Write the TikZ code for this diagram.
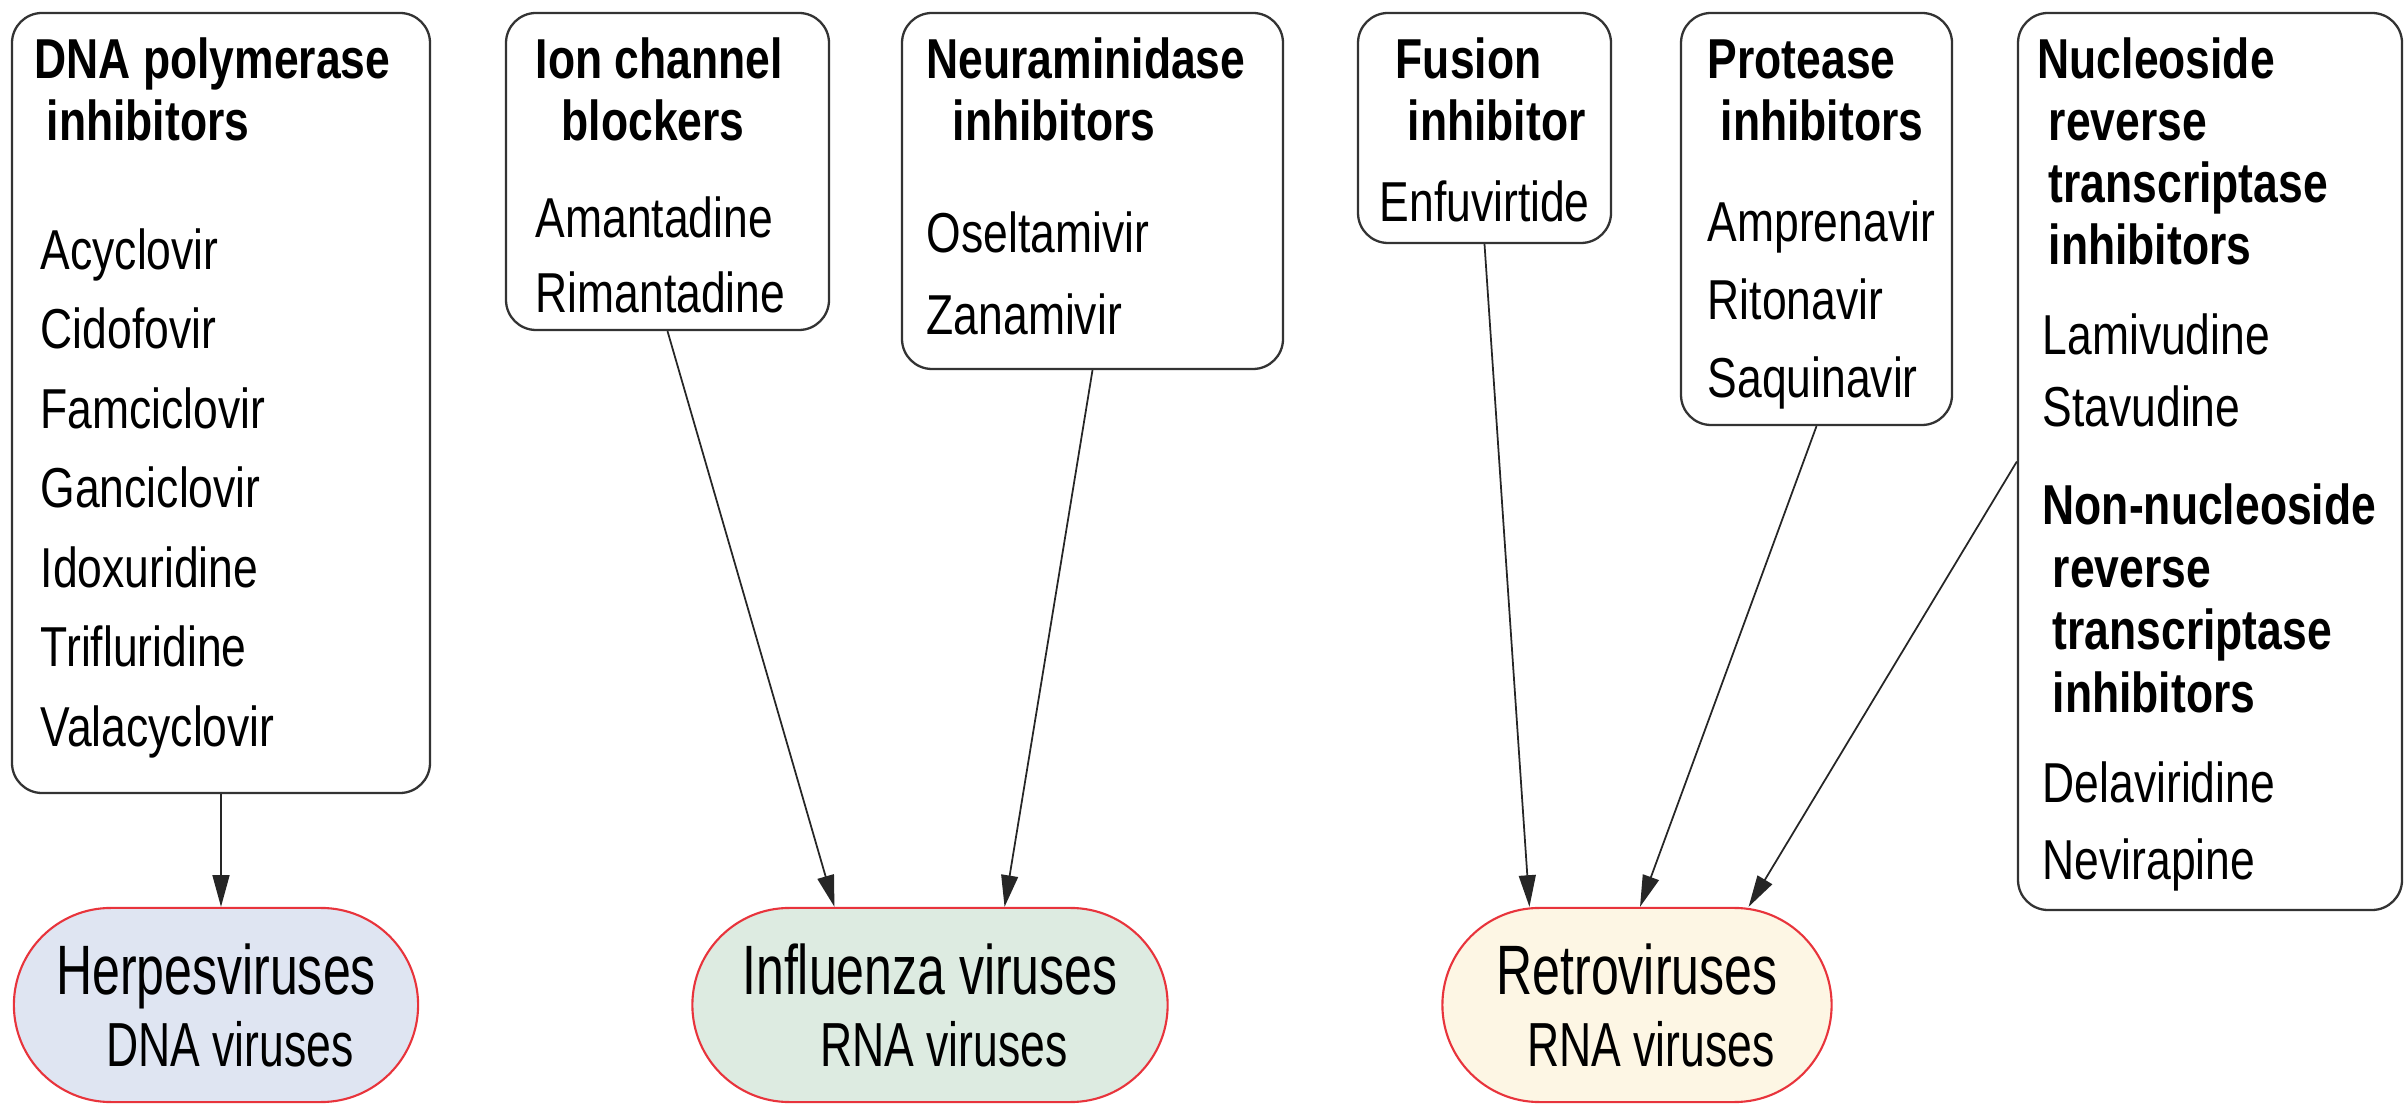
\documentclass[tikz,border=0pt]{standalone}
\usepackage{fontspec}
\setmainfont{Liberation Sans}[FakeStretch=0.79]
\newfontfamily\ovalfont{Liberation Sans}[FakeStretch=0.715]
\usetikzlibrary{arrows.meta}
\usetikzlibrary{fit,shapes.misc}
\definecolor{herpesfill}{HTML}{DFE5F2}
\definecolor{flufill}{HTML}{DDEBE1}
\definecolor{retrofill}{HTML}{FDF6E4}
\definecolor{ovalline}{HTML}{E8343C}
\newcommand{\subline}[1]{\hspace*{0.28cm}{\fontsize{17.7}{20.5}\selectfont #1}}
\tikzset{
  drugbox/.style={draw=black!80, line width=0.65pt, rounded corners=0.3cm, inner sep=0pt},
  head/.style={anchor=base west, inner sep=0pt, font=\fontsize{16}{19}\selectfont\bfseries},
  drug/.style={anchor=base west, inner sep=0pt, font=\fontsize{16}{19}\selectfont},
  virus/.style={rounded rectangle, draw=ovalline, line width=0.6pt, inner sep=0pt,
    minimum height=1.94cm, align=center, font=\ovalfont\fontsize{19.9}{20.5}\selectfont},
  link/.style={->, line width=0.5pt, black!85}
}

\begin{document}
\begin{tikzpicture}[x=0.01cm, y=-0.01cm, >={Triangle[length=9pt, width=4.8pt]}]
\useasboundingbox (0,0) rectangle (2406,1104);
% drug class boxes
\node[drugbox, fit={(12,13) (430,793)}] (dna) {};
\node[drugbox, fit={(506,13) (829,330)}] (ion) {};
\node[drugbox, fit={(902,13) (1283,369)}] (neur) {};
\node[drugbox, fit={(1358,13) (1611,243)}] (fusion) {};
\node[drugbox, fit={(1681,13) (1952,425)}] (prot) {};
\node[drugbox, fit={(2018,13) (2402,910)}] (nrti) {};
% headings and drugs
\node[head] (dna-h1) at (34,79) {DNA polymerase};
\node[head] (dna-h2) at (46,141) {inhibitors};
\foreach \y/\name [count=\i] in {270/Acyclovir, 349/Cidofovir, 429/Famciclovir, 508/Ganciclovir, 588/Idoxuridine, 667/Trifluridine, 747/Valacyclovir}
  \node[drug] (dna-\i) at (40,\y) {\name};
\node[head] (ion-h1) at (535,79) {Ion channel};
\node[head] (ion-h2) at (561,141) {blockers};
\foreach \y/\name [count=\i] in {238/Amantadine, 313/Rimantadine}
  \node[drug] (ion-\i) at (535,\y) {\name};
\node[head] (neur-h1) at (926,79) {Neuraminidase};
\node[head] (neur-h2) at (952,141) {inhibitors};
\foreach \y/\name [count=\i] in {253/Oseltamivir, 335/Zanamivir}
  \node[drug] (neur-\i) at (926,\y) {\name};
\node[head] (fusion-h1) at (1395,79) {Fusion};
\node[head] (fusion-h2) at (1407,141) {inhibitor};
\node[drug] (fusion-1) at (1379,222) {Enfuvirtide};
\node[head] (prot-h1) at (1707,79) {Protease};
\node[head] (prot-h2) at (1720,141) {inhibitors};
\foreach \y/\name [count=\i] in {242/Amprenavir, 320/Ritonavir, 398/Saquinavir}
  \node[drug] (prot-\i) at (1707,\y) {\name};
\foreach \x/\y/\txt [count=\i] in {2037/79/Nucleoside, 2048/141/reverse, 2048/203/transcriptase, 2048/265/inhibitors}
  \node[head] (nrti-h\i) at (\x,\y) {\txt};
\foreach \y/\name [count=\i] in {355/Lamivudine, 427/Stavudine}
  \node[drug] (nrti-\i) at (2042,\y) {\name};
\foreach \x/\y/\txt [count=\i] in {2042/525/Non-nucleoside, 2052/588/reverse, 2052/650/transcriptase, 2052/713/inhibitors}
  \node[head] (nnrti-h\i) at (\x,\y) {\txt};
\foreach \y/\name [count=\i] in {803/Delaviridine, 880/Nevirapine}
  \node[drug] (nnrti-\i) at (2042,\y) {\name};
% virus groups
\node[virus, fill=herpesfill, minimum width=4.04cm] (herpes) at (216,1005) {Herpesviruses\\\subline{DNA viruses}};
\node[virus, fill=flufill, minimum width=4.75cm] (flu) at (930,1005) {Influenza viruses\\\subline{RNA viruses}};
\node[virus, fill=retrofill, minimum width=3.89cm] (retro) at (1637,1005) {Retroviruses\\\subline{RNA viruses}};
% arrows
\draw[link] (dna.south) -- (dna.south |- herpes.north);
\draw[link] (ion.south) -- ([xshift=-0.955cm]flu.north);
\draw[link] (neur.south) -- ([xshift=0.745cm]flu.north);
\draw[link] (fusion.south) -- ([xshift=-1.075cm]retro.north);
\draw[link] (prot.south) -- ([xshift=0.03cm]retro.north);
\draw[link] (nrti.west) -- ([xshift=1.115cm]retro.north);
\end{tikzpicture}
\end{document}
